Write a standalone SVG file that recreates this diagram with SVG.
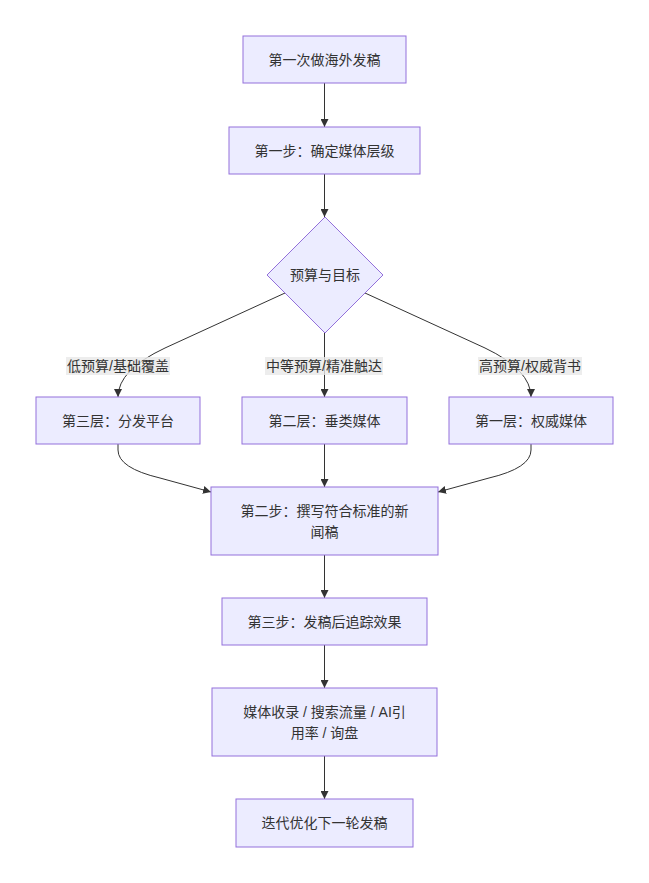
<svg xmlns="http://www.w3.org/2000/svg" width="649" height="883" viewBox="0 0 649 883">
<style>
.node rect, .node polygon { fill: #ECECFF; stroke: #9370DB; stroke-width: 1; }
text { font-family: "Liberation Sans", "Noto Sans CJK SC", sans-serif; font-size: 14px; fill: #333; text-anchor: middle; dominant-baseline: central; }
.edge { fill: none; stroke: #333; stroke-width: 1; }
.lbl rect { fill: #e8e8e8; opacity: 0.8; }
</style>
<defs>
<marker id="arrow" viewBox="0 0 10 10" refX="10" refY="5" markerWidth="8" markerHeight="8" markerUnits="userSpaceOnUse" orient="auto">
<path d="M0,0 L10,5 L0,10 z" fill="#333"/>
</marker>
</defs>
<rect width="649" height="883" fill="#ffffff"/>
<g id="connectors">
<path class="edge" d="M324.5,83 L324.5,127" marker-end="url(#arrow)"/>
<path class="edge" d="M324.5,174 L324.5,217" marker-end="url(#arrow)"/>
<path class="edge" d="M285,293 L165,348 Q118,370 118,397" marker-end="url(#arrow)"/>
<path class="edge" d="M324.5,333 L324.5,397" marker-end="url(#arrow)"/>
<path class="edge" d="M365,293 L485,348 Q531,370 531,397" marker-end="url(#arrow)"/>
<path class="edge" d="M118,444 L118,450 Q118,468 160,478 L211,492" marker-end="url(#arrow)"/>
<path class="edge" d="M324.5,444 L324.5,487" marker-end="url(#arrow)"/>
<path class="edge" d="M531,444 L531,450 Q531,468 489,478 L438,492" marker-end="url(#arrow)"/>
<path class="edge" d="M324.5,555 L324.5,598" marker-end="url(#arrow)"/>
<path class="edge" d="M324.5,645 L324.5,688" marker-end="url(#arrow)"/>
<path class="edge" d="M324.5,756 L324.5,799" marker-end="url(#arrow)"/>
</g>
<g id="edge-labels">
<g class="lbl" id="lbl-low"><rect x="66" y="357" width="104" height="18"/><text x="118" y="366">低预算/基础覆盖</text></g>
<g class="lbl" id="lbl-mid"><rect x="265" y="357" width="118" height="18"/><text x="324" y="366">中等预算/精准触达</text></g>
<g class="lbl" id="lbl-high"><rect x="478" y="357" width="104" height="18"/><text x="530" y="366">高预算/权威背书</text></g>
</g>
<g id="n1" class="node"><rect x="243" y="36" width="163" height="47"/><text x="324.5" y="59.5">第一次做海外发稿</text></g>
<g id="n2" class="node"><rect x="229" y="127" width="191" height="47"/><text x="324.5" y="150.5">第一步：确定媒体层级</text></g>
<g id="n3" class="node"><polygon points="325,217 383,275 325,333 267,275"/><text x="325" y="275">预算与目标</text></g>
<g id="n4" class="node"><rect x="36" y="397" width="164" height="47"/><text x="118" y="420.5">第三层：分发平台</text></g>
<g id="n5" class="node"><rect x="242" y="397" width="165" height="47"/><text x="324.5" y="420.5">第二层：垂类媒体</text></g>
<g id="n6" class="node"><rect x="449" y="397" width="164" height="47"/><text x="531" y="420.5">第一层：权威媒体</text></g>
<g id="n7" class="node"><rect x="211" y="487" width="227" height="68"/><text x="324.5" y="511">第二步：撰写符合标准的新</text><text x="324.5" y="532">闻稿</text></g>
<g id="n8" class="node"><rect x="222" y="598" width="205" height="47"/><text x="324.5" y="621.5">第三步：发稿后追踪效果</text></g>
<g id="n9" class="node"><rect x="212" y="688" width="225" height="68"/><text x="324.5" y="711.5">媒体收录 / 搜索流量 / AI引</text><text x="324.5" y="732.5">用率 / 询盘</text></g>
<g id="n10" class="node"><rect x="236" y="799" width="177" height="48"/><text x="324.5" y="823">迭代优化下一轮发稿</text></g>
</svg>
